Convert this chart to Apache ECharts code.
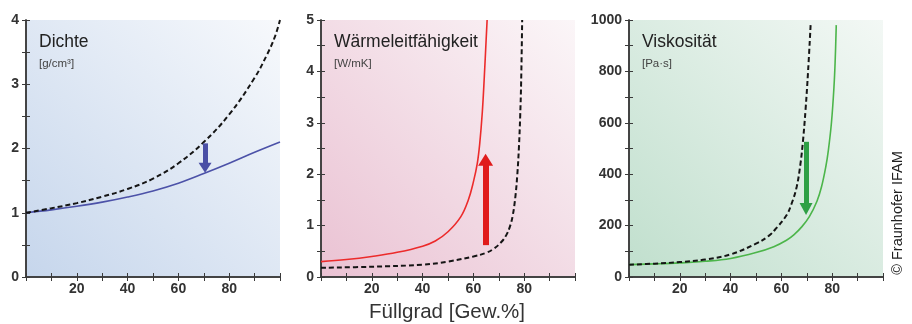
<!DOCTYPE html>
<html>
<head>
<meta charset="utf-8">
<script src="https://cdn.jsdelivr.net/npm/echarts@6/dist/echarts.min.js"></script>
<style>
  html, body { margin: 0; padding: 0; background: #fff; }
  #chart { width: 912px; height: 324px; }
</style>
</head>
<body>
<div id="chart"></div>
<script>
// Dichte [g/cm³]
const densityFilledX = [0, 10, 20, 30, 40, 50, 60, 70, 80, 90, 100];
const densityFilled = [1.0, 1.045, 1.1, 1.165, 1.245, 1.34, 1.46, 1.61, 1.77, 1.94, 2.1];
const densityBaseX = [0, 10, 20, 30, 40, 50, 60, 70, 80, 90, 95, 98, 100];
const densityBase = [1.0, 1.07, 1.15, 1.25, 1.37, 1.53, 1.77, 2.1, 2.53, 3.1, 3.47, 3.74, 4.0];

// Wärmeleitfähigkeit [W/mK]
const conductFilledX = [0, 10, 20, 30, 40, 45, 50, 55, 58, 60, 61.5, 62.5, 63.5, 64.3, 65, 65.4];
const conductFilled = [0.3, 0.34, 0.4, 0.48, 0.6, 0.7, 0.88, 1.17, 1.5, 1.85, 2.2, 2.6, 3.2, 3.9, 4.6, 5.0];
const conductBaseX = [0, 20, 40, 50, 60, 65, 68, 71, 73, 74.5, 75.5, 76.5, 77.3, 77.9, 78.4, 78.8, 79.2];
const conductBase = [0.18, 0.2, 0.24, 0.3, 0.4, 0.47, 0.55, 0.68, 0.82, 1.0, 1.2, 1.55, 2.0, 2.5, 3.1, 3.8, 5.0];

// Viskosität [Pa·s]
const viscFilledX = [0, 10, 20, 30, 40, 50, 57, 62, 65, 68, 71, 74, 75.8, 77.5, 78.5, 79.7, 80.7, 81.2, 81.6];
const viscFilled = [48, 51, 55, 61, 72, 95, 118, 143, 165, 195, 235, 295, 351, 430, 494, 600, 740, 850, 980];
const viscBaseX = [0, 10, 20, 30, 40, 50, 55, 58, 62, 64, 66, 67.5, 68.5, 69.5, 70.5, 71.5];
const viscBase = [48, 52, 58, 68, 88, 130, 160, 190, 240, 285, 350, 440, 530, 650, 800, 980];

// Pfeile: [x, Start, Ende]
const densityArrow = [70.5, 2.08, 1.70];
const conductArrow = [64.8, 0.62, 2.28];
const viscArrow = [69.7, 526, 265];

const panelTitles = ['Dichte', 'Wärmeleitfähigkeit', 'Viskosität'];
const panelUnits = ['[g/cm³]', '[W/mK]', '[Pa·s]'];
const yMax = [4, 5, 1000];
const yStep = [0.5, 0.5, 100];
const yLabelStep = [1, 1, 200];

const FONT = 'Liberation Sans, Arial, Helvetica, sans-serif';
const gridLefts = [26, 321, 629];
const bgColors = [
  ['#c6d6ec', '#f7f9fc'],
  ['#eac2d3', '#fbf6f8'],
  ['#c0dfcd', '#f3f8f5']
];
const lineColors = ['#4c52a8', '#ec2b2b', '#4cb54a'];
const arrowColors = ['#4a4fa6', '#e01b1b', '#2ea045'];

function zip(xs, ys) {
  return xs.map((x, i) => [x, ys[i]]);
}

const chart = echarts.init(document.getElementById('chart'));

const grid = [];
const xAxis = [];
const yAxis = [];
const series = [];
const graphic = [];

const axisLine = { show: true, lineStyle: { color: '#3a3a3a', width: 1.5 } };
const axisTick = { show: true, inside: true, length: 4, lineStyle: { color: '#3a3a3a', width: 1 } };

gridLefts.forEach((left, i) => {
  grid.push({
    left: left, top: 20, width: 254, height: 257,
    show: true, borderWidth: 0,
    backgroundColor: new echarts.graphic.LinearGradient(0, 1, 1, 0, [
      { offset: 0, color: bgColors[i][0] },
      { offset: 1, color: bgColors[i][1] }
    ])
  });
  ['bottom', 'top'].forEach((pos) => {
    xAxis.push({
      type: 'value', gridIndex: i, position: pos,
      min: 0, max: 100, interval: 10,
      axisLine, axisTick, splitLine: { show: false },
      axisLabel: {
        show: pos === 'bottom', margin: 5,
        fontFamily: FONT, fontSize: 14, fontWeight: 'bold', color: '#333',
        formatter: (v) => (v % 20 === 0 && v > 0 && v < 100) ? String(v) : ''
      }
    });
  });
  ['left', 'right'].forEach((pos) => {
    yAxis.push({
      type: 'value', gridIndex: i, position: pos,
      min: 0, max: yMax[i], interval: yStep[i],
      axisLine, axisTick, splitLine: { show: false },
      axisLabel: {
        show: pos === 'left', margin: 7,
        fontFamily: FONT, fontSize: 14, fontWeight: 'bold', color: '#333',
        formatter: (v) => (Math.abs(v / yLabelStep[i] - Math.round(v / yLabelStep[i])) < 1e-6) ? String(v) : ''
      }
    });
  });

  graphic.push({
    type: 'text', left: left + 13, top: 33,
    style: { text: panelTitles[i], font: '17.5px ' + FONT, fill: '#222' }
  });
  graphic.push({
    type: 'text', left: left + 13, top: 58,
    style: { text: panelUnits[i], font: '11.5px ' + FONT, fill: '#444' }
  });
});

const panels = [
  [densityFilledX, densityFilled, densityBaseX, densityBase, densityArrow, [13, 10], 5],
  [conductFilledX, conductFilled, conductBaseX, conductBase, conductArrow, [15, 12], 6],
  [viscFilledX, viscFilled, viscBaseX, viscBase, viscArrow, [13, 12], 5]
];

panels.forEach((p, i) => {
  const arrow = p[4];
  series.push({
    type: 'line', xAxisIndex: i * 2, yAxisIndex: i * 2,
    data: zip(p[0], p[1]), showSymbol: false, smooth: 0.4,
    lineStyle: { color: lineColors[i], width: 1.6 },
    z: 3,
    markLine: {
      silent: true, animation: false,
      symbol: ['none', 'triangle'], symbolSize: p[5],
      label: { show: false },
      lineStyle: { color: arrowColors[i], width: p[6], type: 'solid', opacity: 1 },
      itemStyle: { color: arrowColors[i] },
      data: [[{ coord: [arrow[0], arrow[1]] }, { coord: [arrow[0], arrow[2]] }]]
    }
  });
  series.push({
    type: 'line', xAxisIndex: i * 2, yAxisIndex: i * 2,
    data: zip(p[2], p[3]), showSymbol: false, smooth: 0.4,
    lineStyle: { color: '#151515', width: 2, type: [5, 3] },
    z: 4
  });
});

graphic.push({
  type: 'text', x: 447, y: 312,
  style: { text: 'Füllgrad [Gew.%]', font: '20.5px ' + FONT, fill: '#333', align: 'center', verticalAlign: 'middle' }
});
graphic.push({
  type: 'text', x: 898, y: 213, rotation: Math.PI / 2,
  style: { text: '© Fraunhofer IFAM', font: '14.5px ' + FONT, fill: '#222', align: 'center', verticalAlign: 'middle' }
});

chart.setOption({
  animation: false,
  grid, xAxis, yAxis, series, graphic
});
</script>
</body>
</html>
